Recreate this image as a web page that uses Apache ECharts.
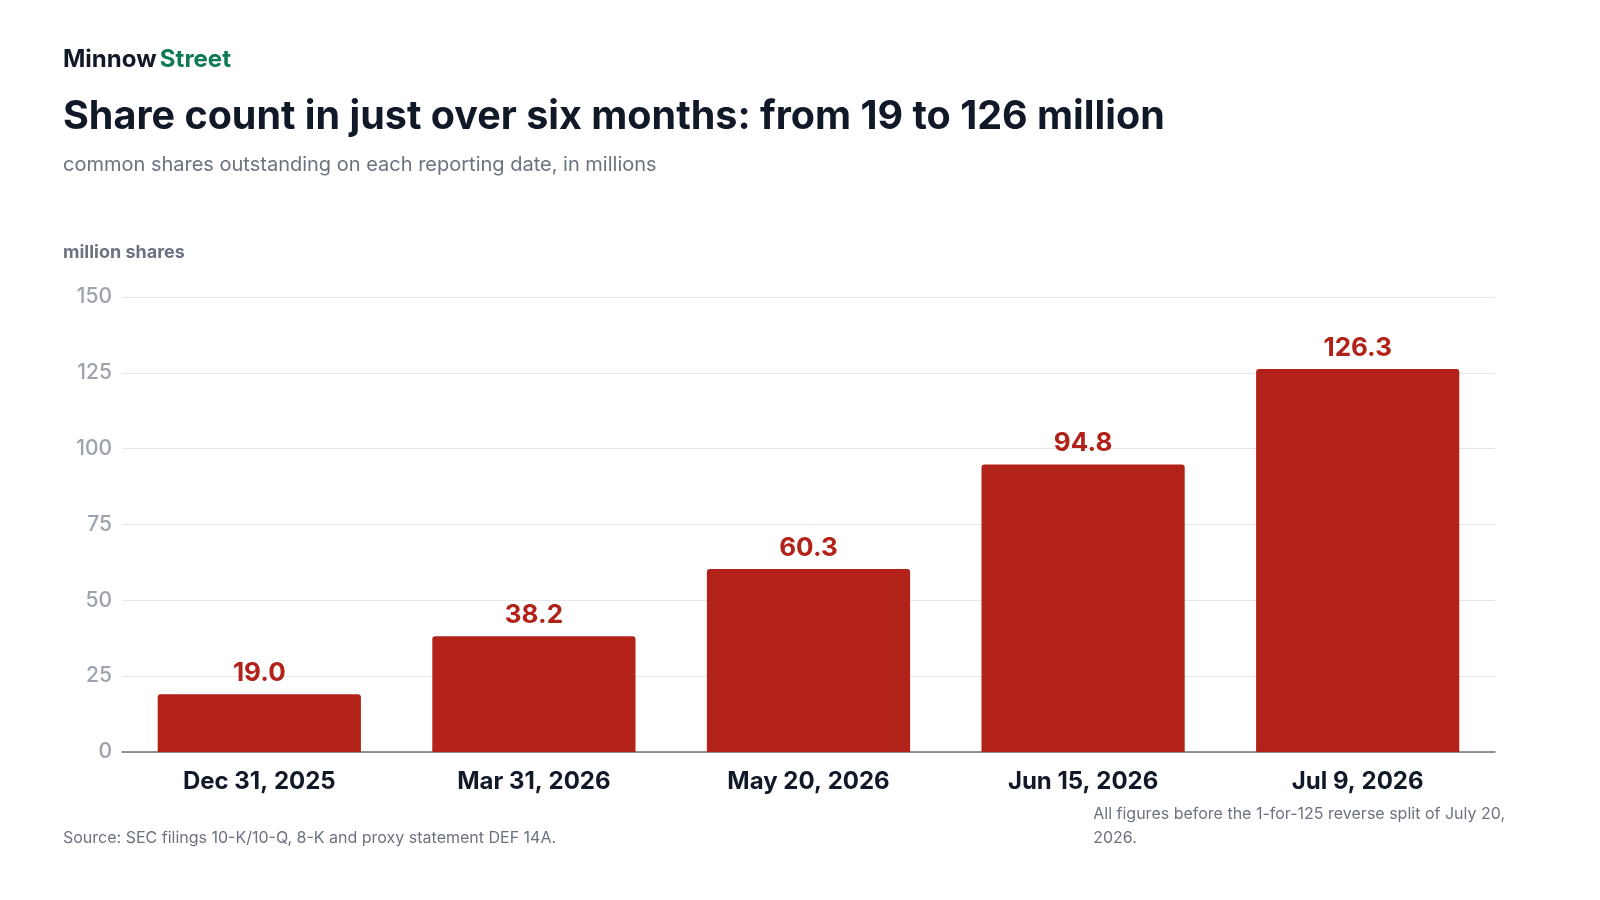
<!DOCTYPE html>
<html><head><meta charset="utf-8">
<script src="https://cdn.jsdelivr.net/npm/echarts@6/dist/echarts.min.js"></script>
<style>html,body{margin:0;background:#fff}#c{width:1600px;height:900px}</style>
</head><body><div id="c"></div>
<script>
const categories = ['Dec 31, 2025', 'Mar 31, 2026', 'May 20, 2026', 'Jun 15, 2026', 'Jul 9, 2026'];
const shares = [19.0, 38.2, 60.3, 94.8, 126.3];

const font = 'Inter, "Noto Sans", sans-serif';
const chart = echarts.init(document.getElementById('c'));
chart.setOption({
  textStyle: { fontFamily: font },
  graphic: [
    { type: 'text', left: 63, top: 48, style: { text: '{a|Minnow} {b|Street}', rich: {
      a: { fontFamily: font, fontSize: 24, fontWeight: 'bold', fill: '#111827' },
      b: { fontFamily: font, fontSize: 24, fontWeight: 'bold', fill: '#0f7b56' } } } },
    { type: 'text', left: 63, top: 97, style: { text: 'Share count in just over six months: from 19 to 126 million',
      fontFamily: font, fontSize: 39.5, fontWeight: 'bold', fill: '#111827' } },
    { type: 'text', left: 63, top: 155, style: { text: 'common shares outstanding on each reporting date, in millions',
      fontFamily: font, fontSize: 20, fill: '#6b7280' } },
    { type: 'text', left: 63, top: 244, style: { text: 'million shares',
      fontFamily: font, fontSize: 18, fontWeight: 'bold', fill: '#6b7280' } },
    { type: 'text', left: 63, top: 830, style: { text: 'Source: SEC filings 10-K/10-Q, 8-K and proxy statement DEF 14A.',
      fontFamily: font, fontSize: 16, fill: '#6b7280' } },
    { type: 'text', right: 95, top: 802, style: { text: 'All figures before the 1-for-125 reverse split of July 20,\n2026.',
      fontFamily: font, fontSize: 16, fill: '#6b7280', align: 'right', lineHeight: 24 } }
  ],
  grid: { left: 122, right: 105, top: 297, bottom: 148 },
  xAxis: {
    type: 'category', data: categories,
    axisLine: { lineStyle: { color: '#6b7280', width: 1.5 } },
    axisTick: { show: false },
    axisLabel: { fontFamily: font, fontSize: 24, fontWeight: 'bold', color: '#111827', margin: 18 }
  },
  yAxis: {
    type: 'value', min: 0, max: 150, interval: 25,
    splitLine: { lineStyle: { color: '#e5e7eb' } },
    axisLabel: { fontFamily: font, fontSize: 21, fontWeight: 500, color: '#9ca3af', margin: 10 }
  },
  series: [{
    type: 'bar', data: shares, barWidth: '74%',
    itemStyle: { color: '#b22218', borderRadius: [3, 3, 0, 0] },
    label: { show: true, position: 'top', distance: 8, formatter: p => p.value.toFixed(1),
      fontFamily: font, fontSize: 26, fontWeight: 'bold', color: '#b22218' }
  }]
});
</script></body></html>
